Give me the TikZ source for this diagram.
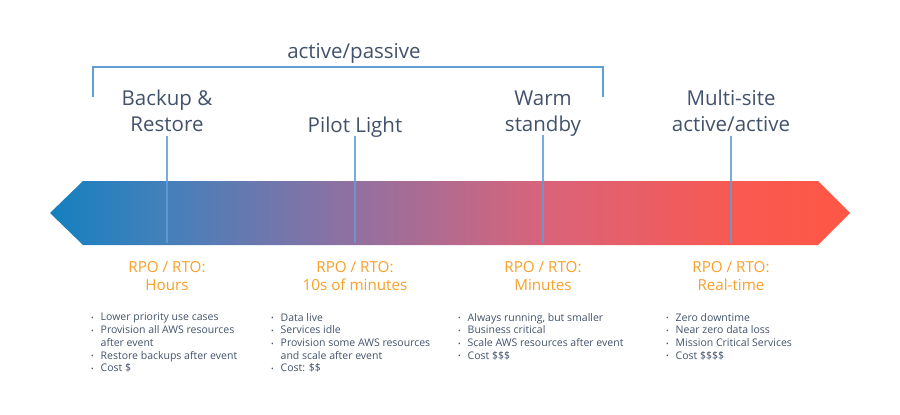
\documentclass[tikz,border=0pt]{standalone}
\usepackage{fontspec}
\setmainfont{Open Sans}
\usetikzlibrary{positioning}

\definecolor{inkgray}{RGB}{66,82,106}
\definecolor{rpoorange}{RGB}{248,160,40}
\definecolor{tickblue}{RGB}{96,158,214}
\pgfdeclarehorizontalshading{drspectrum}{100bp}{rgb(0bp)=(0.08,0.5,0.75); rgb(25bp)=(0.08,0.5,0.75); rgb(32.3bp)=(0.27,0.5,0.73); rgb(44bp)=(0.57,0.44,0.63); rgb(55.8bp)=(0.85,0.39,0.48); rgb(67.6bp)=(0.97,0.35,0.32); rgb(75bp)=(1,0.34,0.27); rgb(100bp)=(1,0.34,0.27)}

\newcommand{\drbul}[1]{\makebox[9.5pt][l]{\raisebox{0.5pt}{\fontsize{7}{7}\selectfont\textbullet}}#1}
\newcommand{\drcont}[1]{\hspace*{9.5pt}#1}

\tikzset{
  stratname/.style={align=center, text=inkgray, inner ysep=0pt, font=\fontsize{20.5}{26}\selectfont, execute at end node=\strut},
  rpolabel/.style={align=center, text=rpoorange, font=\fontsize{15.2}{18}\selectfont},
  bulletlist/.style={align=left, text=inkgray, anchor=north west, inner sep=0pt, font=\fontsize{10.5}{12.7}\selectfont},
  tick/.style={draw=tickblue, line width=1.8pt, opacity=0.85, shorten <=-4pt},
}

\begin{document}
\begin{tikzpicture}[x=1pt, y=-1pt]
        \useasboundingbox (0,0) rectangle (900,415);

        % gradient arrow
        \shade[shading=drspectrum] (50,213) -- (83,181) -- (818,181) -- (850,213) -- (818,245) -- (83,245) -- cycle;

        % strategies
        \node[stratname] (backup) at (167, 115) {Backup \&\\Restore};
        \node[stratname] (pilot) at (355, 127) {Pilot Light};
        \node[stratname] (warm) at (543, 115) {Warm\\standby};
        \node[stratname] (multi) at (731, 115) {Multi-site\\active/active};

        \coordinate (backupFoot) at (167, 243);
        \coordinate (pilotFoot) at (355, 243);
        \coordinate (warmFoot) at (543, 243);
        \coordinate (multiFoot) at (731, 243);

        \draw[tick] (backup.south) -- (backupFoot);
        \draw[tick] (pilot.south) -- (pilotFoot);
        \draw[tick] (warm.south) -- (warmFoot);
        \draw[tick] (multi.south) -- (multiFoot);

        % active/passive bracket
        \node[stratname, execute at end node=, inner ysep=3pt] (ap) at (354, 53) {active/passive};
        \coordinate (apLeft) at (93, 97);
        \coordinate (apRight) at (603, 97);
        \draw[draw=tickblue, line width=1.8pt] (apLeft) -- ++(0,-30) -| (apRight);

        % RPO / RTO
        \node[rpolabel] (backupRpo) at (167, 276) {RPO / RTO:\\Hours};
        \node[rpolabel] (pilotRpo) at (355, 276) {RPO / RTO:\\10s of minutes};
        \node[rpolabel] (warmRpo) at (543, 276) {RPO / RTO:\\Minutes};
        \node[rpolabel] (multiRpo) at (731, 276) {RPO / RTO:\\Real-time};

        % details
        \node[bulletlist] (backupList) at (91, 313) {\drbul{Lower priority use cases}\\\drbul{Provision all AWS resources}\\\drcont{after event}\\\drbul{Restore backups after event}\\\drbul{Cost \$}};
        \node[bulletlist] (pilotList) at (271, 313) {\drbul{Data live}\\\drbul{Services idle}\\\drbul{Provision some AWS resources}\\\drcont{and scale after event}\\\drbul{Cost: \$\$}};
        \node[bulletlist] (warmList) at (458, 313) {\drbul{Always running, but smaller}\\\drbul{Business critical}\\\drbul{Scale AWS resources after event}\\\drbul{Cost \$\$\$}};
        \node[bulletlist] (multiList) at (666, 313) {\drbul{Zero downtime}\\\drbul{Near zero data loss}\\\drbul{Mission Critical Services}\\\drbul{Cost \$\$\$\$}};
      \end{tikzpicture}
\end{document}
